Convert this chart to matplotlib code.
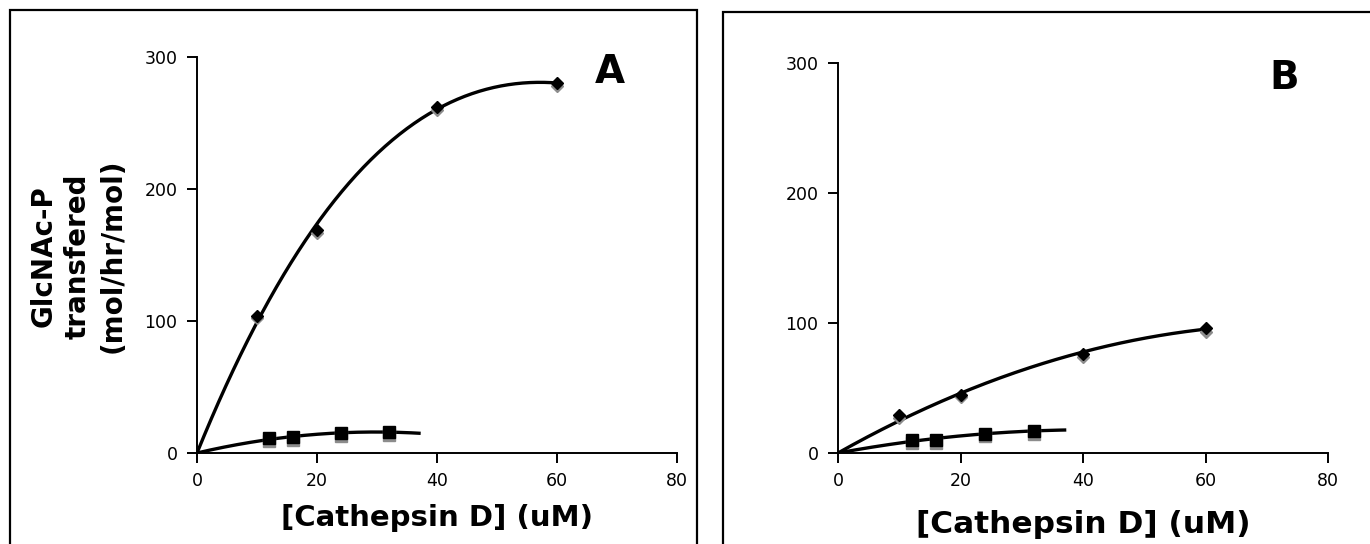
import numpy as np
import matplotlib.pyplot as plt
from matplotlib.patches import Rectangle

# ==========================
# Dati
# ==========================
x_diam = [10, 20, 40, 60]
x_sq = [12, 16, 24, 32]

# pannello A
A_diam = [104, 169, 262, 280]
A_diam_grey = [102, 167, 260, 278]
A_sq = [11, 12, 15, 16]
A_sq_grey = [9, 10, 13, 14]

# pannello B
B_diam = [29, 45, 76, 96]
B_diam_grey = [27, 43, 74, 93]
B_sq = [10, 10, 15, 17]
B_sq_grey = [8, 8, 13, 15]

x_ticks = [0, 20, 40, 60, 80]
y_ticks = [0, 100, 200, 300]
xlabel = "[Cathepsin D] (uM)"
ylabel = "GlcNAc-P\ntransfered\n(mol/hr/mol)"

W, H = 1370, 544


def trend(x, y, deg, x_end):
    # trendline polinomiale con intercetta nulla (come Excel)
    x = np.asarray(x, float)
    y = np.asarray(y, float)
    M = np.vstack([x ** k for k in range(1, deg + 1)]).T
    coef, *_ = np.linalg.lstsq(M, y, rcond=None)
    xs = np.linspace(0, x_end, 200)
    ys = sum(c * xs ** (k + 1) for k, c in enumerate(coef))
    return xs, ys


def pannello(ax, d, dg, s, sg, deg_d, letter, lxy, xl_size, xl_pad):
    xs, ys = trend(x_diam, d, deg_d, 60)
    ax.plot(xs, ys, color="black", lw=2.4, zorder=2)
    xs, ys = trend(x_sq, s, 2, 37)
    ax.plot(xs, ys, color="black", lw=2.4, zorder=2)

    ax.plot(x_diam, dg, "D", color="#8c8c8c", ms=6, ls="none", zorder=3)
    ax.plot(x_diam, d, "D", color="black", ms=6, ls="none", zorder=4)
    ax.plot(x_sq, sg, "s", color="#8c8c8c", ms=9, ls="none", zorder=3)
    ax.plot(x_sq, s, "s", color="black", ms=9, ls="none", zorder=4)

    ax.set_xlim(0, 80)
    ax.set_ylim(0, 300)
    ax.set_xticks(x_ticks)
    ax.set_yticks(y_ticks)
    ax.spines["top"].set_visible(False)
    ax.spines["right"].set_visible(False)
    for sp in ("left", "bottom"):
        ax.spines[sp].set_linewidth(1.4)
    ax.tick_params(direction="out", length=7, width=1.4, labelsize=12.5, pad=7)
    ax.set_xlabel(xlabel, fontsize=xl_size, fontweight="bold", labelpad=xl_pad)
    ax.text(lxy[0], lxy[1], letter, transform=fig.transFigure, fontsize=28,
            fontweight="bold", ha="center", va="center")


fig = plt.figure(figsize=(W / 100, H / 100), dpi=100)

# riquadri dei due pannelli
fig.patches.append(Rectangle((10 / W, -0.05), 687 / W, 1 - 10 / H + 0.05,
                             transform=fig.transFigure, fill=False, lw=1.6,
                             ec="black"))
fig.patches.append(Rectangle((723 / W, -0.05), 0.6, 1 - 12 / H + 0.05,
                             transform=fig.transFigure, fill=False, lw=1.6,
                             ec="black"))

axA = fig.add_axes([197 / W, 1 - 453 / H, 480 / W, 396 / H])
axB = fig.add_axes([838 / W, 1 - 453 / H, 490 / W, 390 / H])

pannello(axA, A_diam, A_diam_grey, A_sq, A_sq_grey, 3, "A",
         (610 / W, 1 - 72 / H), 21, 10)
pannello(axB, B_diam, B_diam_grey, B_sq, B_sq_grey, 2, "B",
         (1284 / W, 1 - 78 / H), 22.5, 14)

fig.text(78 / W, 1 - 256 / H, ylabel, rotation=90, fontsize=20,
         fontweight="bold", ha="center", va="center", linespacing=1.3,
         multialignment="center")

fig.savefig("out.png", dpi=100)
